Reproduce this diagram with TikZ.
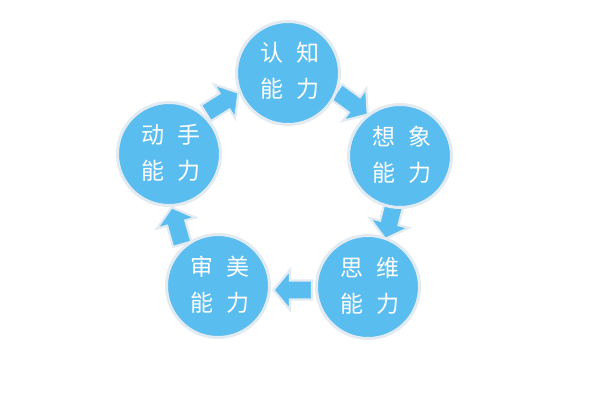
\documentclass[tikz,border=0pt]{standalone}
\usepackage{fontspec}
\newfontfamily\cjk{Noto Sans CJK SC}
\definecolor{cblue}{RGB}{90,189,240}
\definecolor{cedge}{RGB}{226,235,242}
\tikzset{
  ball/.style={circle, fill=cblue, draw=cedge, line width=3pt, minimum size=103pt, inner sep=0pt},
  balltext/.style={text=white, font=\cjk\fontsize{23}{36}\selectfont, align=center, inner sep=0pt},
  blockarrow/.style={fill=cblue, draw=cedge, line width=2.2pt, line join=miter},
}
\newcommand{\blockarr}[3]{%
  \begin{scope}[shift={(#1,#2)}, rotate=#3]
    \draw[blockarrow] (-19,-9.5) -- (3,-9.5) -- (3,-20) -- (19.5,0) -- (3,20) -- (3,9.5) -- (-19,9.5) -- cycle;
  \end{scope}}
\begin{document}
\begin{tikzpicture}[x=1pt,y=-1pt]
\useasboundingbox (0,0) rectangle (600,400);
% arrows
\blockarr{222}{103}{32}
\blockarr{352}{103}{-36}
\blockarr{390}{220}{-104}
\blockarr{293}{290}{180}
\blockarr{177}{226}{106}
% circles
\node[ball] (c1) at (288,73) {};
\node[ball] (c2) at (400,156) {};
\node[ball] (c3) at (368,287) {};
\node[ball] (c4) at (218,286) {};
\node[ball] (c5) at (169,154) {};
\node[balltext] (t1) at ([xshift=2pt,yshift=2pt]c1.center) {认\hspace{14pt}知\\能\hspace{14pt}力};
\node[balltext] (t2) at ([xshift=2pt,yshift=1pt]c2.center) {想\hspace{14pt}象\\能\hspace{14pt}力};
\node[balltext] (t3) at ([xshift=2pt,yshift=1pt]c3.center) {思\hspace{14pt}维\\能\hspace{14pt}力};
\node[balltext] (t4) at ([xshift=2pt,yshift=1pt]c4.center) {审\hspace{14pt}美\\能\hspace{14pt}力};
\node[balltext] (t5) at ([xshift=2pt,yshift=1pt]c5.center) {动\hspace{14pt}手\\能\hspace{14pt}力};
\end{tikzpicture}
\end{document}
